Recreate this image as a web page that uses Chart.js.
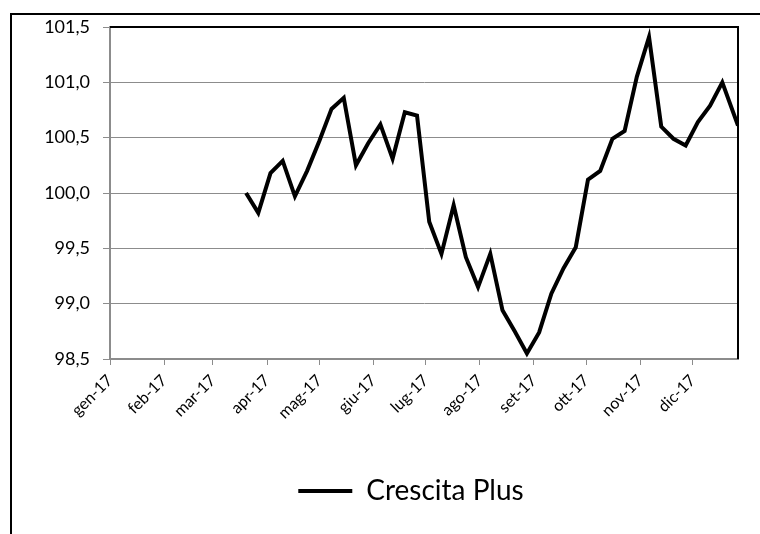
<!DOCTYPE html>
<html>
<head>
<meta charset="utf-8">
<script src="https://cdn.jsdelivr.net/npm/chart.js@4/dist/chart.umd.min.js"></script>
<style>
  html, body { margin: 0; padding: 0; background: #fff; }
  #wrap { position: relative; width: 760px; height: 534px; overflow: hidden; }
  #frame { position: absolute; left: 10px; top: 13px; width: 800px; height: 600px; border: 2px solid #000; box-sizing: border-box; }
  #chart { position: absolute; left: 0; top: 0; }
</style>
</head>
<body>
<div id="wrap">
  <div id="frame"></div>
  <canvas id="chart" width="760" height="534"></canvas>
</div>
<script>
// weekly quotations
const dates = [
    '2017-03-20', '2017-03-27', '2017-04-03', '2017-04-10', '2017-04-17', '2017-04-24',
    '2017-05-01', '2017-05-08', '2017-05-15', '2017-05-22', '2017-05-29',
    '2017-06-05', '2017-06-12', '2017-06-19', '2017-06-26',
    '2017-07-03', '2017-07-10', '2017-07-17', '2017-07-24', '2017-07-31',
    '2017-08-07', '2017-08-14', '2017-08-21', '2017-08-28',
    '2017-09-04', '2017-09-11', '2017-09-18', '2017-09-25',
    '2017-10-02', '2017-10-09', '2017-10-16', '2017-10-23', '2017-10-30',
    '2017-11-06', '2017-11-13', '2017-11-20', '2017-11-27',
    '2017-12-04', '2017-12-11', '2017-12-18', '2017-12-27'
];
const crescitaPlus = [
    100.00, 99.82, 100.18, 100.29, 99.97, 100.20,
    100.47, 100.76, 100.86, 100.25, 100.45,
    100.62, 100.31, 100.73, 100.70,
    99.74, 99.45, 99.89, 99.42, 99.15,
    99.45, 98.94, 98.75, 98.55,
    98.74, 99.09, 99.32, 99.51,
    100.12, 100.20, 100.49, 100.56, 101.05,
    101.41, 100.60, 100.49, 100.43,
    100.64, 100.79, 101.00, 100.61
];
const monthLabels = ['gen-17', 'feb-17', 'mar-17', 'apr-17', 'mag-17', 'giu-17',
    'lug-17', 'ago-17', 'set-17', 'ott-17', 'nov-17', 'dic-17'];
const yTicks = [98.5, 99.0, 99.5, 100.0, 100.5, 101.0, 101.5];

const DAY = 86400000;
const start = Date.UTC(2017, 0, 1);
function dayOf(s){
    const p = s.split('-').map(Number);
    return (Date.UTC(p[0], p[1] - 1, p[2]) - start) / DAY;
}
const monthStarts = monthLabels.map((m, i) => (Date.UTC(2017, i, 1) - start) / DAY);
const points = dates.map((d, i) => ({x: dayOf(d), y: crescitaPlus[i]}));

const font = 'Lato, "Open Sans", sans-serif';
const gridGray = '#8c8c8c';

// defaults too, so any label that falls back still gets the right face and size
Chart.defaults.font.family = font;
Chart.defaults.font.size = 16;
Chart.defaults.color = '#000';

// black top and right edges of the plot area
const plotFrame = {
    id: 'plotFrame',
    afterLayout(chart){
        // legend sits a bit right of the canvas centre in the original
        chart.legend.left += 22;
        chart.legend.right += 22;
    },
    afterDatasetsDraw(chart){
        const a = chart.chartArea, ctx = chart.ctx;
        ctx.save();
        ctx.strokeStyle = '#000';
        ctx.lineWidth = 2;
        ctx.beginPath();
        ctx.moveTo(a.left, a.top);
        ctx.lineTo(a.right, a.top);
        ctx.lineTo(a.right, a.bottom);
        ctx.stroke();
        ctx.restore();
    }
};

new Chart(document.getElementById('chart'), {
    type: 'line',
    data: {
        datasets: [{
            label: 'Crescita Plus',
            data: points,
            borderColor: '#000',
            backgroundColor: '#000',
            borderWidth: 4,
            pointRadius: 0,
            tension: 0,
            fill: false
        }]
    },
    options: {
        responsive: false,
        animation: false,
        layout: {padding: {left: 40, right: 22, top: 27, bottom: 19}},
        plugins: {
            tooltip: {enabled: false},
            legend: {
                position: 'bottom',
                labels: {
                    usePointStyle: true,
                    pointStyle: 'line',
                    pointStyleWidth: 54,
                    color: '#000',
                    padding: 10,
                    font: {family: font, size: 28}
                }
            }
        },
        scales: {
            x: {
                type: 'linear',
                min: 0,
                max: dayOf(dates[dates.length - 1]),
                afterBuildTicks: s => { s.ticks = monthStarts.map(v => ({value: v})); },
                afterFit: s => { s.height = 108; },
                grid: {drawOnChartArea: false, drawTicks: true, tickLength: 6, color: gridGray},
                border: {color: gridGray, width: 2},
                ticks: {
                    autoSkip: false,
                    minRotation: 45,
                    maxRotation: 45,
                    padding: 6,
                    color: '#000',
                    font: {family: font, size: 16},
                    callback: (v, i) => monthLabels[i]
                }
            },
            y: {
                min: 98.5,
                max: 101.5,
                afterBuildTicks: s => { s.ticks = yTicks.map(v => ({value: v})); },
                afterFit: s => { s.width = 70; },
                grid: {color: gridGray, lineWidth: 1, tickLength: 7},
                border: {color: gridGray, width: 2},
                ticks: {
                    padding: 13,
                    color: '#000',
                    font: {family: font, size: 18},
                    callback: v => v.toFixed(1).replace('.', ',')
                }
            }
        }
    },
    plugins: [plotFrame]
});
</script>
</body>
</html>
